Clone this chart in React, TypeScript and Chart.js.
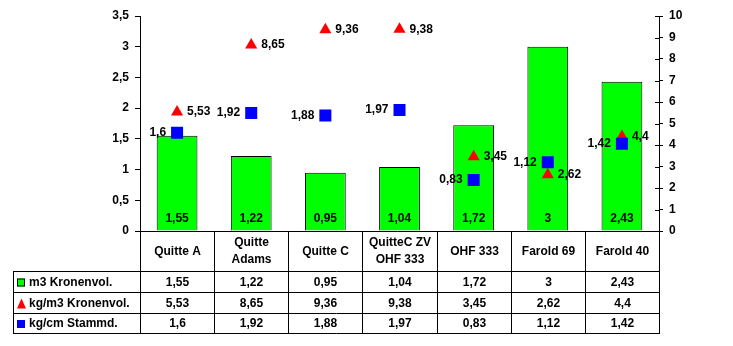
import React, { useEffect, useRef } from 'react';
import { Chart, registerables } from 'chart.js';

Chart.register(...registerables);

const categories: string[][] = [
  ['Quitte A'],
  ['Quitte', 'Adams'],
  ['Quitte C'],
  ['QuitteC ZV', 'OHF 333'],
  ['OHF 333'],
  ['Farold 69'],
  ['Farold 40'],
];
const kronenvol = [1.55, 1.22, 0.95, 1.04, 1.72, 3, 2.43];
const kgPerM3 = [5.53, 8.65, 9.36, 9.38, 3.45, 2.62, 4.4];
const kgPerCm = [1.6, 1.92, 1.88, 1.97, 0.83, 1.12, 1.42];
const seriesNames = ['m3 Kronenvol.', 'kg/m3 Kronenvol.', 'kg/cm Stammd.'];

const GREEN = '#00FF00';
const RED = '#FF0000';
const BLUE = '#0000FF';
const FONT = '"Liberation Sans", Arial, sans-serif';
const BOLD = `bold 12px ${FONT}`;

const fmt = (v: number) => String(v).replace('.', ',');

const tablePlugin = {
  id: 'tablePlugin',
  afterDatasetsDraw(chart: any) {
    const ctx = chart.ctx;
    const area = chart.chartArea;
    ctx.save();
    ctx.font = BOLD;
    ctx.fillStyle = '#000';
    // bar value labels
    const barMeta = chart.getDatasetMeta(0);
    barMeta.data.forEach((el: any, i: number) => {
      ctx.textAlign = 'center';
      ctx.textBaseline = 'middle';
      ctx.fillText(fmt(kronenvol[i]), el.x, area.bottom - 12);
    });
    const redMeta = chart.getDatasetMeta(1);
    redMeta.data.forEach((el: any, i: number) => {
      ctx.textAlign = 'left';
      ctx.textBaseline = 'middle';
      ctx.fillText(fmt(kgPerM3[i]), el.x + 10, el.y);
    });
    const blueMeta = chart.getDatasetMeta(2);
    blueMeta.data.forEach((el: any, i: number) => {
      ctx.textAlign = 'right';
      ctx.textBaseline = 'middle';
      ctx.fillText(fmt(kgPerCm[i]), el.x - 11, el.y);
    });
    ctx.restore();
  },
  afterDraw(chart: any) {
    const ctx = chart.ctx;
    const area = chart.chartArea;
    const n = categories.length;
    const w = (area.right - area.left) / n;
    const bounds = Array.from({ length: n + 1 }, (_, k) => Math.round(area.left + k * w));
    const top = Math.round(area.bottom);
    const rows = [271, 292, 313, 333];
    const tableLeft = 13;
    ctx.save();
    ctx.strokeStyle = '#000';
    ctx.lineWidth = 1;
    ctx.beginPath();
    // x axis line
    ctx.moveTo(area.left - 4, top + 0.5);
    ctx.lineTo(area.right, top + 0.5);
    // right axis inner tick parts
    const yR = chart.scales.y1;
    for (let v = 0; v <= 10; v++) {
      const py = Math.round(yR.getPixelForValue(v)) + 0.5;
      ctx.moveTo(area.right - 4, py);
      ctx.lineTo(area.right, py);
    }
    // vertical lines
    bounds.forEach((bx) => {
      ctx.moveTo(bx + 0.5, top);
      ctx.lineTo(bx + 0.5, rows[3] + 0.5);
    });
    ctx.moveTo(tableLeft + 0.5, rows[0]);
    ctx.lineTo(tableLeft + 0.5, rows[3] + 0.5);
    rows.forEach((ry) => {
      ctx.moveTo(tableLeft, ry + 0.5);
      ctx.lineTo(bounds[n] + 1, ry + 0.5);
    });
    ctx.stroke();

    ctx.font = BOLD;
    ctx.fillStyle = '#000';
    ctx.textAlign = 'center';
    ctx.textBaseline = 'middle';
    const headerMid = (top + rows[0]) / 2 + 0.5;
    categories.forEach((lines, i) => {
      const cx = (bounds[i] + bounds[i + 1]) / 2 + 0.5;
      if (lines.length === 1) {
        ctx.fillText(lines[0], cx, headerMid);
      } else {
        ctx.fillText(lines[0], cx, headerMid - 8.5);
        ctx.fillText(lines[1], cx, headerMid + 8.5);
      }
    });
    const allSeries = [kronenvol, kgPerM3, kgPerCm];
    allSeries.forEach((vals, r) => {
      const cy = (rows[r] + rows[r + 1]) / 2 + 1;
      vals.forEach((v, i) => {
        const cx = (bounds[i] + bounds[i + 1]) / 2 + 0.5;
        ctx.textAlign = 'center';
        ctx.fillText(fmt(v), cx, cy);
      });
      ctx.textAlign = 'left';
      ctx.fillText(seriesNames[r], 29, cy);
    });
    // legend icons
    let cy = (rows[0] + rows[1]) / 2 + 1;
    ctx.fillStyle = GREEN;
    ctx.fillRect(17, cy - 4, 8, 8);
    ctx.strokeRect(17.5, cy - 3.5, 7, 7);
    cy = (rows[1] + rows[2]) / 2 + 1;
    ctx.fillStyle = RED;
    ctx.beginPath();
    ctx.moveTo(21.5, cy - 5);
    ctx.lineTo(26, cy + 5);
    ctx.lineTo(17, cy + 5);
    ctx.closePath();
    ctx.fill();
    cy = (rows[2] + rows[3]) / 2 + 1;
    ctx.fillStyle = BLUE;
    ctx.fillRect(17, cy - 4, 8, 8);
    ctx.restore();
  },
};

export default function App() {
  const ref = useRef<HTMLCanvasElement | null>(null);
  useEffect(() => {
    if (!ref.current) return;
    const chart = new Chart(ref.current, {
      type: 'bar',
      data: {
        labels: categories.map((c) => c.join(' ')),
        datasets: [
          {
            type: 'bar',
            label: seriesNames[0],
            data: kronenvol,
            backgroundColor: GREEN,
            borderColor: '#000',
            borderWidth: 1,
            yAxisID: 'y',
            order: 3,
            barPercentage: 0.55,
            categoryPercentage: 1,
          } as any,
          {
            type: 'line',
            label: seriesNames[1],
            data: kgPerM3,
            showLine: false,
            pointStyle: 'triangle',
            pointRadius: 7,
            backgroundColor: RED,
            borderColor: RED,
            borderWidth: 0,
            yAxisID: 'y1',
            order: 2,
          } as any,
          {
            type: 'line',
            label: seriesNames[2],
            data: kgPerCm,
            showLine: false,
            pointStyle: 'rect',
            pointRadius: 8.5,
            backgroundColor: BLUE,
            borderColor: BLUE,
            borderWidth: 0,
            yAxisID: 'y',
            order: 1,
          } as any,
        ],
      },
      options: {
        responsive: false,
        animation: false,
        layout: { padding: { top: 16, bottom: 115, left: 0, right: 0 } },
        plugins: { legend: { display: false }, tooltip: { enabled: false } },
        scales: {
          x: { display: false, offset: true },
          y: {
            position: 'left',
            min: 0,
            max: 3.5,
            ticks: {
              stepSize: 0.5,
              color: '#000',
              padding: 6,
              font: { family: FONT, size: 12, weight: 'bold' },
              callback: (v: any) => fmt(Number(v)),
            },
            grid: { drawOnChartArea: false, color: '#000', tickLength: 5 },
            border: { color: '#000', width: 1 },
            afterFit: (s: any) => {
              s.width = 140;
            },
          },
          y1: {
            position: 'right',
            min: 0,
            max: 10,
            ticks: {
              stepSize: 1,
              color: '#000',
              padding: 6,
              font: { family: FONT, size: 12, weight: 'bold' },
              callback: (v: any) => fmt(Number(v)),
            },
            grid: { drawOnChartArea: false, color: '#000', tickLength: 4 },
            border: { color: '#000', width: 1 },
            afterFit: (s: any) => {
              s.width = 74;
            },
          },
        },
      } as any,
      plugins: [tablePlugin],
    });
    return () => chart.destroy();
  }, []);
  return (
    <div style={{ position: 'absolute', left: 0, top: 0, width: 733, height: 346, background: '#fff' }}>
      <canvas ref={ref} width={733} height={346} style={{ width: 733, height: 346 }} />
    </div>
  );
}
